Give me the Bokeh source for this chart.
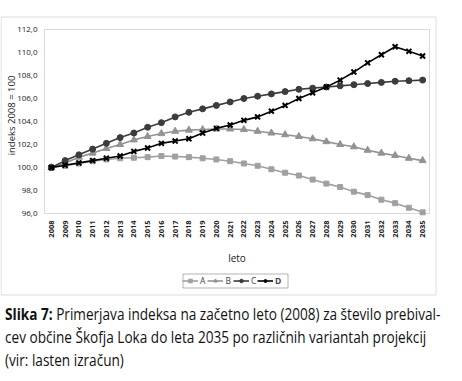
import math
from bokeh.plotting import figure
from bokeh.models import Range1d, Legend, LegendItem, Div, BoxAnnotation
from bokeh.core.properties import value
from bokeh.layouts import column
from bokeh.embed import file_html
from bokeh.resources import INLINE

years = list(range(2008, 2036))
series_a = [100.0, 100.15, 100.35, 100.55, 100.7, 100.8, 100.85, 100.9, 101.0, 100.95,
            100.9, 100.8, 100.7, 100.55, 100.35, 100.15, 99.85, 99.55, 99.3, 98.95,
            98.6, 98.3, 97.9, 97.6, 97.2, 96.9, 96.5, 96.1]
series_b = [100.0, 100.4, 100.9, 101.25, 101.65, 102.0, 102.4, 102.7, 102.95, 103.15,
            103.25, 103.3, 103.35, 103.35, 103.3, 103.15, 103.0, 102.85, 102.7, 102.5,
            102.25, 102.0, 101.8, 101.5, 101.25, 101.05, 100.8, 100.6]
series_c = [100.0, 100.6, 101.1, 101.6, 102.1, 102.6, 103.0, 103.5, 103.9, 104.4,
            104.8, 105.1, 105.4, 105.7, 106.0, 106.2, 106.4, 106.6, 106.8, 106.9,
            107.0, 107.1, 107.2, 107.3, 107.4, 107.5, 107.55, 107.6]
series_d = [100.0, 100.2, 100.4, 100.6, 100.8, 101.0, 101.4, 101.7, 102.1, 102.3,
            102.5, 103.0, 103.4, 103.7, 104.1, 104.4, 104.9, 105.4, 106.0, 106.5,
            107.0, 107.6, 108.3, 109.1, 109.8, 110.5, 110.1, 109.7]
series_names = ["A", "B", "C", "D"]
y_ticks = [96, 98, 100, 102, 104, 106, 108, 110, 112]
y_tick_labels = ["96,0", "98,0", "100,0", "102,0", "104,0", "106,0", "108,0", "110,0", "112,0"]
x_tick_labels = [str(y) for y in years]
y_title = "indeks 2008 = 100"
x_title = "leto"
caption_bold = "Slika 7:"
caption_lines = [
    "Primerjava indeksa na začetno leto (2008) za število prebival-",
    "cev občine Škofja Loka do leta 2035 po različnih variantah projekcij",
    "(vir: lasten izračun)",
]

FONT = "Open Sans"
series_styles = [
    (series_a, "#a0a0a0", "square", 5),
    (series_b, "#939393", "triangle", 7),
    (series_c, "#3c3c3c", "circle", 6),
    (series_d, "#000000", "x", 7),
]

# canvas geometry (pixels)
W, H = 446, 296
PL, PR, PT, PB = 44, 429, 29, 213          # plot area box in canvas pixels
x_lo, x_hi = years[0] - 0.5, years[-1] + 0.5
y_lo, y_hi = y_ticks[0], y_ticks[-1]
sx = (PR - PL) / (x_hi - x_lo)             # px per year
sy = (PB - PT) / (y_hi - y_lo)             # px per index unit


def xd(px):
    return x_lo + (px - PL) / sx


def yd(py):
    return y_hi - (py - PT) / sy


p = figure(width=W, height=H, x_range=Range1d(xd(0), xd(W)), y_range=Range1d(yd(H), yd(0)),
           output_backend="svg", toolbar_location=None, x_axis_type=None, y_axis_type=None,
           min_border_left=0, min_border_right=0, min_border_top=0, min_border_bottom=0)
p.outline_line_color = None
p.xgrid.visible = False
p.ygrid.visible = False

# outer frame and plot-area frame
p.add_layout(BoxAnnotation(left=xd(0.5), right=xd(435.5), top=yd(16.5), bottom=yd(294.5),
                           fill_alpha=0, line_color="#8a8a8a", line_width=1))
p.add_layout(BoxAnnotation(left=x_lo, right=x_hi, top=y_hi, bottom=y_lo,
                           fill_alpha=0, line_color="#808080", line_width=1))

# y tick labels
p.text(x=[xd(PL - 7)] * len(y_ticks), y=y_ticks, text=y_tick_labels,
       text_font=value(FONT), text_font_size="8px", text_align="right",
       text_baseline="middle", text_color="#222222")
# x tick labels (vertical, reading upward)
p.text(x=years, y=[yd(PB + 7)] * len(years), text=x_tick_labels, angle=math.pi / 2,
       text_font=value(FONT), text_font_size="7.5px", text_font_style="bold",
       text_align="right", text_baseline="middle", text_color="#222222")
# axis titles
p.text(x=[(x_lo + x_hi) / 2], y=[yd(257)], text=[x_title], text_font=value(FONT),
       text_font_size="10px", text_align="center", text_baseline="middle", text_color="#222222")
p.text(x=[xd(10.5)], y=[yd(115)], text=[y_title], angle=math.pi / 2, text_font=value(FONT),
       text_font_size="9.5px", text_align="center", text_baseline="middle", text_color="#222222")

items = []
for name, (vals, col, mk, sz) in zip(series_names, series_styles):
    r1 = p.line(years, vals, line_color=col, line_width=1.6)
    if mk == "x":
        r2 = p.scatter(years, vals, marker=mk, size=sz, line_color=col, line_width=2)
    else:
        r2 = p.scatter(years, vals, marker=mk, size=sz, fill_color=col, line_color=col)
    items.append(LegendItem(label=name, renderers=[r1, r2]))

common = dict(orientation="horizontal", border_line_color=None, background_fill_alpha=0,
              label_text_font=FONT, label_text_font_size="8.5px", glyph_width=16, glyph_height=9,
              label_standoff=2, label_width=5, label_height=9, spacing=2, padding=1, margin=0)
leg1 = Legend(items=items[:3], location=(182, H - 285.5), **common)
leg2 = Legend(items=items[3:], location=(257, H - 285.5), label_text_font_style="bold", **common)
p.add_layout(leg1)
p.add_layout(leg2)
p.add_layout(BoxAnnotation(left=xd(182.5), right=xd(287.5), top=yd(273.5), bottom=yd(287.5),
                           fill_alpha=0, line_color="black", line_width=1))

html = ('<div style="font-family:\'%s\'; font-size:16px; line-height:23px; color:#111; '
        'white-space:nowrap; transform:scaleX(0.85); transform-origin:0 0; margin-top:2px">'
        '<b>%s</b> %s<br>%s<br>%s</div>') % (FONT, caption_bold, caption_lines[0], caption_lines[1], caption_lines[2])
caption = Div(text=html, width=446, height=72)

layout = column(p, caption, spacing=0)

open("out.html", "w").write(file_html(layout, INLINE))
